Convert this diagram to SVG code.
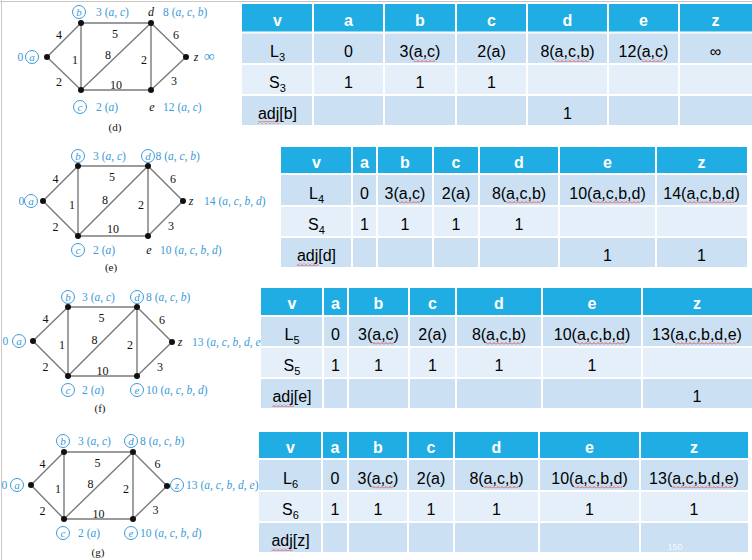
<svg xmlns="http://www.w3.org/2000/svg" width="752" height="560" viewBox="0 0 752 560">
<style>
.edge{stroke:#7a7a7a;stroke-width:1.4;fill:none}
.dot{fill:#111}
.lbl{font-family:"Liberation Serif","Times New Roman",serif;font-size:11.5px;fill:#3b9ad8}
.it{font-style:italic}
.blk{font-family:"Liberation Serif","Times New Roman",serif;font-size:12px;fill:#111;font-style:italic;text-anchor:middle}
.circ{fill:#fff;stroke:#3b9ad8;stroke-width:1}
.cl{font-family:"Liberation Serif","Times New Roman",serif;font-size:11px;fill:#3b9ad8;font-style:italic;text-anchor:middle}
.el{font-family:"Liberation Serif","Times New Roman",serif;font-size:12px;fill:#111;text-anchor:middle}
.cap{font-family:"Liberation Serif","Times New Roman",serif;font-size:11px;fill:#111;text-anchor:middle}
.hd{fill:#1fade3}
.r1{fill:#cbe0f3}
.r2{fill:#e5eff9}
.grid{stroke:#fff;stroke-width:2}
.th{font-family:"Liberation Sans",Arial,sans-serif;font-size:16px;font-weight:bold;fill:#fff;text-anchor:middle}
.td{font-family:"Liberation Sans",Arial,sans-serif;font-size:16px;fill:#000;text-anchor:middle}
.sub{font-size:11px}
.sq{fill:url(#sq)}
.frame{stroke:#c8c8c8;stroke-width:1}
</style>
<defs>
<pattern id="sq" x="0" y="0" width="4" height="3" patternUnits="userSpaceOnUse">
<path d="M0 2.5 L2 0.5 L4 2.5" fill="none" stroke="#e03030" stroke-width="0.8"/>
</pattern>
</defs>
<rect width="752" height="560" fill="#fff"/>
<line class="frame" x1="0" y1="1.5" x2="752" y2="1.5"/>
<line class="frame" x1="1.5" y1="0" x2="1.5" y2="560"/>

<!-- ================= Graph (d) ================= -->
<g id="graph-d">
<g id="d-connectors">
<line class="edge" x1="47" y1="57" x2="81" y2="23"/>
<line class="edge" x1="47" y1="57" x2="81" y2="90"/>
<line class="edge" x1="81" y1="23" x2="81" y2="90"/>
<line class="edge" x1="81" y1="23" x2="151" y2="23"/>
<line class="edge" x1="81" y1="90" x2="151" y2="23"/>
<line class="edge" x1="81" y1="90" x2="151" y2="90"/>
<line class="edge" x1="151" y1="23" x2="151" y2="90"/>
<line class="edge" x1="151" y1="23" x2="186" y2="57"/>
<line class="edge" x1="151" y1="90" x2="186" y2="57"/>
<text class="el" x="59" y="39">4</text>
<text class="el" x="59" y="86">2</text>
<text class="el" x="75" y="64">1</text>
<text class="el" x="115" y="38">5</text>
<text class="el" x="108" y="59">8</text>
<text class="el" x="144" y="64">2</text>
<text class="el" x="116" y="89">10</text>
<text class="el" x="176" y="39">6</text>
<text class="el" x="174" y="85">3</text>
</g>
<g id="d-node-a"><circle class="dot" cx="47" cy="57" r="3"/><text class="lbl" x="17.5" y="61">0</text><circle class="circ" cx="32" cy="57" r="6.5"/><text class="cl" x="32" y="60.5">a</text></g>
<g id="d-node-b"><circle class="dot" cx="81" cy="23" r="3"/><circle class="circ" cx="79" cy="12" r="6.5"/><text class="cl" x="79" y="15.5">b</text><text class="lbl" x="96" y="16">3 (<tspan class="it">a</tspan>, <tspan class="it">c</tspan>)</text></g>
<g id="d-node-c"><circle class="dot" cx="81" cy="90" r="3"/><circle class="circ" cx="80" cy="107" r="6.5"/><text class="cl" x="80" y="110.5">c</text><text class="lbl" x="96" y="111">2 (<tspan class="it">a</tspan>)</text></g>
<g id="d-node-d"><circle class="dot" cx="151" cy="23" r="3"/><text class="blk" x="151" y="16">d</text><text class="lbl" x="163" y="16">8 (<tspan class="it">a</tspan>, <tspan class="it">c</tspan>, <tspan class="it">b</tspan>)</text></g>
<g id="d-node-e"><circle class="dot" cx="151" cy="90" r="3"/><text class="blk" x="152" y="111">e</text><text class="lbl" x="163" y="111">12 (<tspan class="it">a</tspan>, <tspan class="it">c</tspan>)</text></g>
<g id="d-node-z"><circle class="dot" cx="186" cy="57" r="3"/><text class="blk" x="196" y="61">z</text><text class="lbl" x="204" y="61" style="font-size:15px">∞</text></g>
<text class="cap" x="115" y="131">(d)</text>
</g>

<!-- ================= Graph (e) ================= -->
<g id="graph-e">
<g id="e-connectors">
<line class="edge" x1="43" y1="201" x2="78" y2="166"/>
<line class="edge" x1="43" y1="201" x2="78" y2="236"/>
<line class="edge" x1="78" y1="166" x2="78" y2="236"/>
<line class="edge" x1="78" y1="166" x2="148" y2="166"/>
<line class="edge" x1="78" y1="236" x2="148" y2="166"/>
<line class="edge" x1="78" y1="236" x2="148" y2="236"/>
<line class="edge" x1="148" y1="166" x2="148" y2="236"/>
<line class="edge" x1="148" y1="166" x2="183" y2="201"/>
<line class="edge" x1="148" y1="236" x2="183" y2="201"/>
<text class="el" x="55.5" y="182.5">4</text>
<text class="el" x="55.5" y="231">2</text>
<text class="el" x="72" y="208.5">1</text>
<text class="el" x="112" y="181">5</text>
<text class="el" x="105" y="203.5">8</text>
<text class="el" x="141" y="208.5">2</text>
<text class="el" x="113" y="233">10</text>
<text class="el" x="173" y="182.5">6</text>
<text class="el" x="171" y="230">3</text>
</g>
<g id="e-node-a"><circle class="dot" cx="43" cy="201" r="3"/><text class="lbl" x="18.5" y="205">0</text><circle class="circ" cx="31" cy="201" r="6.5"/><text class="cl" x="31" y="204.5">a</text></g>
<g id="e-node-b"><circle class="dot" cx="78" cy="166" r="3"/><circle class="circ" cx="78" cy="156" r="6.5"/><text class="cl" x="78" y="159.5">b</text><text class="lbl" x="93" y="160">3 (<tspan class="it">a</tspan>, <tspan class="it">c</tspan>)</text></g>
<g id="e-node-c"><circle class="dot" cx="78" cy="236" r="3"/><circle class="circ" cx="78" cy="250" r="6.5"/><text class="cl" x="78" y="253.5">c</text><text class="lbl" x="93" y="254">2 (<tspan class="it">a</tspan>)</text></g>
<g id="e-node-d"><circle class="dot" cx="148" cy="166" r="3"/><circle class="circ" cx="148" cy="156" r="6.5"/><text class="cl" x="148" y="159.5">d</text><text class="lbl" x="155.5" y="160">8 (<tspan class="it">a</tspan>, <tspan class="it">c</tspan>, <tspan class="it">b</tspan>)</text></g>
<g id="e-node-e"><circle class="dot" cx="148" cy="236" r="3"/><text class="blk" x="149" y="254">e</text><text class="lbl" x="160" y="254">10 (<tspan class="it">a</tspan>, <tspan class="it">c</tspan>, <tspan class="it">b</tspan>, <tspan class="it">d</tspan>)</text></g>
<g id="e-node-z"><circle class="dot" cx="183" cy="201" r="3"/><text class="blk" x="191" y="205">z</text><text class="lbl" x="204" y="205">14 (<tspan class="it">a</tspan>, <tspan class="it">c</tspan>, <tspan class="it">b</tspan>, <tspan class="it">d</tspan>)</text></g>
<text class="cap" x="111" y="271">(e)</text>
</g>

<!-- ================= Graph (f) ================= -->
<g id="graph-f">
<g id="f-connectors">
<line class="edge" x1="33" y1="341" x2="68" y2="307"/>
<line class="edge" x1="33" y1="341" x2="68" y2="376"/>
<line class="edge" x1="68" y1="307" x2="68" y2="376"/>
<line class="edge" x1="68" y1="307" x2="137" y2="307"/>
<line class="edge" x1="68" y1="376" x2="137" y2="307"/>
<line class="edge" x1="68" y1="376" x2="137" y2="376"/>
<line class="edge" x1="137" y1="307" x2="137" y2="376"/>
<line class="edge" x1="137" y1="307" x2="172" y2="342"/>
<line class="edge" x1="137" y1="376" x2="172" y2="342"/>
<text class="el" x="45.5" y="323">4</text>
<text class="el" x="45.5" y="371">2</text>
<text class="el" x="62" y="349">1</text>
<text class="el" x="101.5" y="322">5</text>
<text class="el" x="94.5" y="344">8</text>
<text class="el" x="130" y="349">2</text>
<text class="el" x="102.5" y="375">10</text>
<text class="el" x="162" y="323.5">6</text>
<text class="el" x="160" y="370.5">3</text>
</g>
<g id="f-node-a"><circle class="dot" cx="33" cy="341" r="3"/><text class="lbl" x="2.5" y="345">0</text><circle class="circ" cx="19" cy="341" r="6.5"/><text class="cl" x="19" y="344.5">a</text></g>
<g id="f-node-b"><circle class="dot" cx="68" cy="307" r="3"/><circle class="circ" cx="68" cy="297" r="6.5"/><text class="cl" x="68" y="300.5">b</text><text class="lbl" x="82" y="301">3 (<tspan class="it">a</tspan>, <tspan class="it">c</tspan>)</text></g>
<g id="f-node-c"><circle class="dot" cx="68" cy="376" r="3"/><circle class="circ" cx="68" cy="390" r="6.5"/><text class="cl" x="68" y="393.5">c</text><text class="lbl" x="82" y="394">2 (<tspan class="it">a</tspan>)</text></g>
<g id="f-node-d"><circle class="dot" cx="137" cy="307" r="3"/><circle class="circ" cx="137" cy="297" r="6.5"/><text class="cl" x="137" y="300.5">d</text><text class="lbl" x="146" y="301">8 (<tspan class="it">a</tspan>, <tspan class="it">c</tspan>, <tspan class="it">b</tspan>)</text></g>
<g id="f-node-e"><circle class="dot" cx="137" cy="376" r="3"/><circle class="circ" cx="137" cy="390" r="6.5"/><text class="cl" x="137" y="393.5">e</text><text class="lbl" x="146" y="394">10 (<tspan class="it">a</tspan>, <tspan class="it">c</tspan>, <tspan class="it">b</tspan>, <tspan class="it">d</tspan>)</text></g>
<g id="f-node-z"><circle class="dot" cx="172" cy="342" r="3"/><text class="blk" x="180" y="346">z</text><text class="lbl" x="192" y="346">13 (<tspan class="it">a</tspan>, <tspan class="it">c</tspan>, <tspan class="it">b</tspan>, <tspan class="it">d</tspan>, <tspan class="it">e</tspan>)</text></g>
<text class="cap" x="100" y="412">(f)</text>
</g>

<!-- ================= Graph (g) ================= -->
<g id="graph-g">
<g id="g-connectors">
<line class="edge" x1="31" y1="485" x2="64" y2="452"/>
<line class="edge" x1="31" y1="485" x2="64" y2="519"/>
<line class="edge" x1="64" y1="452" x2="64" y2="519"/>
<line class="edge" x1="64" y1="452" x2="133" y2="452"/>
<line class="edge" x1="64" y1="519" x2="133" y2="452"/>
<line class="edge" x1="64" y1="519" x2="133" y2="519"/>
<line class="edge" x1="133" y1="452" x2="133" y2="519"/>
<line class="edge" x1="133" y1="452" x2="167" y2="486"/>
<line class="edge" x1="133" y1="519" x2="167" y2="486"/>
<text class="el" x="42.5" y="467.5">4</text>
<text class="el" x="42.5" y="514.5">2</text>
<text class="el" x="58" y="493">1</text>
<text class="el" x="97.5" y="467">5</text>
<text class="el" x="90.5" y="488">8</text>
<text class="el" x="126" y="493">2</text>
<text class="el" x="98.5" y="518">10</text>
<text class="el" x="157.5" y="468">6</text>
<text class="el" x="155.5" y="514">3</text>
</g>
<g id="g-node-a"><circle class="dot" cx="31" cy="485" r="3"/><text class="lbl" x="1.5" y="489">0</text><circle class="circ" cx="17" cy="485" r="6.5"/><text class="cl" x="17" y="488.5">a</text></g>
<g id="g-node-b"><circle class="dot" cx="64" cy="452" r="3"/><circle class="circ" cx="63" cy="441" r="6.5"/><text class="cl" x="63" y="444.5">b</text><text class="lbl" x="78" y="445">3 (<tspan class="it">a</tspan>, <tspan class="it">c</tspan>)</text></g>
<g id="g-node-c"><circle class="dot" cx="64" cy="519" r="3"/><circle class="circ" cx="63" cy="533" r="6.5"/><text class="cl" x="63" y="536.5">c</text><text class="lbl" x="78" y="537">2 (<tspan class="it">a</tspan>)</text></g>
<g id="g-node-d"><circle class="dot" cx="133" cy="452" r="3"/><circle class="circ" cx="131" cy="441" r="6.5"/><text class="cl" x="131" y="444.5">d</text><text class="lbl" x="140" y="445">8 (<tspan class="it">a</tspan>, <tspan class="it">c</tspan>, <tspan class="it">b</tspan>)</text></g>
<g id="g-node-e"><circle class="dot" cx="133" cy="519" r="3"/><circle class="circ" cx="131" cy="533" r="6.5"/><text class="cl" x="131" y="536.5">e</text><text class="lbl" x="140" y="537">10 (<tspan class="it">a</tspan>, <tspan class="it">c</tspan>, <tspan class="it">b</tspan>, <tspan class="it">d</tspan>)</text></g>
<g id="g-node-z"><circle class="dot" cx="167" cy="486" r="3"/><circle class="circ" cx="177" cy="485" r="6.5"/><text class="cl" x="177" y="488.5">z</text><text class="lbl" x="186" y="489">13 (<tspan class="it">a</tspan>, <tspan class="it">c</tspan>, <tspan class="it">b</tspan>, <tspan class="it">d</tspan>, <tspan class="it">e</tspan>)</text></g>
<text class="cap" x="98" y="556">(g)</text>
</g>

<!-- ================= Table 1 ================= -->
<g id="table-1">
<rect class="hd" x="242" y="4" width="510" height="28.5"/>
<rect class="r1" x="242" y="32.5" width="510" height="31.5"/>
<rect class="r2" x="242" y="64" width="510" height="31"/>
<rect class="r1" x="242" y="95" width="510" height="30"/>
<g class="grid">
<line x1="313" y1="4" x2="313" y2="125"/><line x1="384" y1="4" x2="384" y2="125"/><line x1="456" y1="4" x2="456" y2="125"/><line x1="527" y1="4" x2="527" y2="125"/><line x1="608" y1="4" x2="608" y2="125"/><line x1="679" y1="4" x2="679" y2="125"/>
<line x1="242" y1="32.5" x2="752" y2="32.5"/><line x1="242" y1="64" x2="752" y2="64"/><line x1="242" y1="95" x2="752" y2="95"/>
</g>
<text class="th" x="277.5" y="25.5">v</text><text class="th" x="348.5" y="25.5">a</text><text class="th" x="420" y="25.5">b</text><text class="th" x="491.5" y="25.5">c</text><text class="th" x="567.5" y="25.5">d</text><text class="th" x="643.5" y="25.5">e</text><text class="th" x="715.5" y="25.5">z</text>
<text class="td" x="277.5" y="57">L<tspan class="sub" dy="4">3</tspan></text><text class="td" x="348.5" y="57">0</text><text class="td" x="420" y="57">3(a,c)</text><text class="td" x="491.5" y="57">2(a)</text><text class="td" x="567.5" y="57">8(a,c,b)</text><text class="td" x="643.5" y="57">12(a,c)</text><text class="td" x="715.5" y="57">∞</text>
<text class="td" x="277.5" y="88">S<tspan class="sub" dy="4">3</tspan></text><text class="td" x="348.5" y="88">1</text><text class="td" x="420" y="88">1</text><text class="td" x="491.5" y="88">1</text>
<text class="td" x="277.5" y="118.5">adj[b]</text><text class="td" x="567.5" y="118.5">1</text>
<rect class="sq" x="413.8" y="59" width="21.4" height="3"/>
<rect class="sq" x="554.6" y="59" width="34.7" height="3"/>
<rect class="sq" x="641.7" y="59" width="21.4" height="3"/>
<rect class="sq" x="257.9" y="121" width="21.4" height="3"/>
</g>

<!-- ================= Table 2 ================= -->
<g id="table-2">
<rect class="hd" x="281" y="147" width="466" height="27"/>
<rect class="r1" x="281" y="174" width="466" height="32"/>
<rect class="r2" x="281" y="206" width="466" height="31"/>
<rect class="r1" x="281" y="237" width="466" height="30"/>
<g class="grid">
<line x1="352" y1="147" x2="352" y2="267"/><line x1="377" y1="147" x2="377" y2="267"/><line x1="433" y1="147" x2="433" y2="267"/><line x1="479" y1="147" x2="479" y2="267"/><line x1="559" y1="147" x2="559" y2="267"/><line x1="656" y1="147" x2="656" y2="267"/>
<line x1="281" y1="174" x2="747" y2="174"/><line x1="281" y1="206" x2="747" y2="206"/><line x1="281" y1="237" x2="747" y2="237"/>
</g>
<text class="th" x="316.5" y="167.5">v</text><text class="th" x="364.5" y="167.5">a</text><text class="th" x="405" y="167.5">b</text><text class="th" x="456" y="167.5">c</text><text class="th" x="519" y="167.5">d</text><text class="th" x="607.5" y="167.5">e</text><text class="th" x="701.5" y="167.5">z</text>
<text class="td" x="316.5" y="198.5">L<tspan class="sub" dy="4">4</tspan></text><text class="td" x="364.5" y="198.5">0</text><text class="td" x="405" y="198.5">3(a,c)</text><text class="td" x="456" y="198.5">2(a)</text><text class="td" x="519" y="198.5">8(a,c,b)</text><text class="td" x="607.5" y="198.5">10(a,c,b,d)</text><text class="td" x="701.5" y="198.5">14(a,c,b,d)</text>
<text class="td" x="316.5" y="230">S<tspan class="sub" dy="4">4</tspan></text><text class="td" x="364.5" y="230">1</text><text class="td" x="405" y="230">1</text><text class="td" x="456" y="230">1</text><text class="td" x="519" y="230">1</text>
<text class="td" x="316.5" y="260.5">adj[d]</text><text class="td" x="607.5" y="260.5">1</text><text class="td" x="701.5" y="260.5">1</text>
<rect class="sq" x="398.8" y="200.5" width="21.4" height="3"/>
<rect class="sq" x="506.1" y="200.5" width="34.7" height="3"/>
<rect class="sq" x="592.4" y="200.5" width="48" height="3"/>
<rect class="sq" x="686.4" y="200.5" width="48" height="3"/>
<rect class="sq" x="296.9" y="263" width="21.4" height="3"/>
</g>

<!-- ================= Table 3 ================= -->
<g id="table-3">
<rect class="hd" x="261" y="288" width="491" height="28"/>
<rect class="r1" x="261" y="316" width="491" height="31"/>
<rect class="r2" x="261" y="347" width="491" height="31"/>
<rect class="r1" x="261" y="378" width="491" height="30"/>
<g class="grid">
<line x1="323" y1="288" x2="323" y2="408"/><line x1="348" y1="288" x2="348" y2="408"/><line x1="409" y1="288" x2="409" y2="408"/><line x1="456" y1="288" x2="456" y2="408"/><line x1="542" y1="288" x2="542" y2="408"/><line x1="642" y1="288" x2="642" y2="408"/>
<line x1="261" y1="316" x2="752" y2="316"/><line x1="261" y1="347" x2="752" y2="347"/><line x1="261" y1="378" x2="752" y2="378"/>
</g>
<text class="th" x="292" y="309">v</text><text class="th" x="335.5" y="309">a</text><text class="th" x="378.5" y="309">b</text><text class="th" x="432.5" y="309">c</text><text class="th" x="499" y="309">d</text><text class="th" x="592" y="309">e</text><text class="th" x="697" y="309">z</text>
<text class="td" x="292" y="340">L<tspan class="sub" dy="4">5</tspan></text><text class="td" x="335.5" y="340">0</text><text class="td" x="378.5" y="340">3(a,c)</text><text class="td" x="432.5" y="340">2(a)</text><text class="td" x="499" y="340">8(a,c,b)</text><text class="td" x="592" y="340">10(a,c,b,d)</text><text class="td" x="697" y="340">13(a,c,b,d,e)</text>
<text class="td" x="292" y="371">S<tspan class="sub" dy="4">5</tspan></text><text class="td" x="335.5" y="371">1</text><text class="td" x="378.5" y="371">1</text><text class="td" x="432.5" y="371">1</text><text class="td" x="499" y="371">1</text><text class="td" x="592" y="371">1</text>
<text class="td" x="292" y="401.5">adj[e]</text><text class="td" x="697" y="401.5">1</text>
<rect class="sq" x="372.3" y="342" width="21.4" height="3"/>
<rect class="sq" x="486.1" y="342" width="34.7" height="3"/>
<rect class="sq" x="576.9" y="342" width="48" height="3"/>
<rect class="sq" x="675.2" y="342" width="61.4" height="3"/>
<rect class="sq" x="272.4" y="404" width="21.4" height="3"/>
</g>

<!-- ================= Table 4 ================= -->
<g id="table-4">
<rect class="hd" x="259" y="432" width="489" height="27"/>
<rect class="r1" x="259" y="459" width="489" height="32"/>
<rect class="r2" x="259" y="491" width="489" height="31"/>
<rect class="r1" x="259" y="522" width="489" height="30"/>
<g class="grid">
<line x1="322" y1="432" x2="322" y2="552"/><line x1="348" y1="432" x2="348" y2="552"/><line x1="408" y1="432" x2="408" y2="552"/><line x1="454" y1="432" x2="454" y2="552"/><line x1="539" y1="432" x2="539" y2="552"/><line x1="640" y1="432" x2="640" y2="552"/>
<line x1="259" y1="459" x2="748" y2="459"/><line x1="259" y1="491" x2="748" y2="491"/><line x1="259" y1="522" x2="748" y2="522"/>
</g>
<text class="th" x="290.5" y="452.5">v</text><text class="th" x="335" y="452.5">a</text><text class="th" x="378" y="452.5">b</text><text class="th" x="431" y="452.5">c</text><text class="th" x="496.5" y="452.5">d</text><text class="th" x="589.5" y="452.5">e</text><text class="th" x="694" y="452.5">z</text>
<text class="td" x="290.5" y="483.5">L<tspan class="sub" dy="4">6</tspan></text><text class="td" x="335" y="483.5">0</text><text class="td" x="378" y="483.5">3(a,c)</text><text class="td" x="431" y="483.5">2(a)</text><text class="td" x="496.5" y="483.5">8(a,c,b)</text><text class="td" x="589.5" y="483.5">10(a,c,b,d)</text><text class="td" x="694" y="483.5">13(a,c,b,d,e)</text>
<text class="td" x="290.5" y="515">S<tspan class="sub" dy="4">6</tspan></text><text class="td" x="335" y="515">1</text><text class="td" x="378" y="515">1</text><text class="td" x="431" y="515">1</text><text class="td" x="496.5" y="515">1</text><text class="td" x="589.5" y="515">1</text><text class="td" x="694" y="515">1</text>
<text class="td" x="290.5" y="545.5">adj[z]</text>
<text x="675" y="550" style="font-family:'Liberation Sans',Arial,sans-serif;font-size:9px;fill:#f4f8fc;text-anchor:middle">150</text>
<rect class="sq" x="371.8" y="485.5" width="21.4" height="3"/>
<rect class="sq" x="483.6" y="485.5" width="34.7" height="3"/>
<rect class="sq" x="574.4" y="485.5" width="48" height="3"/>
<rect class="sq" x="672.2" y="485.5" width="61.4" height="3"/>
<rect class="sq" x="271.4" y="548" width="21.4" height="3"/>
</g>
</svg>
